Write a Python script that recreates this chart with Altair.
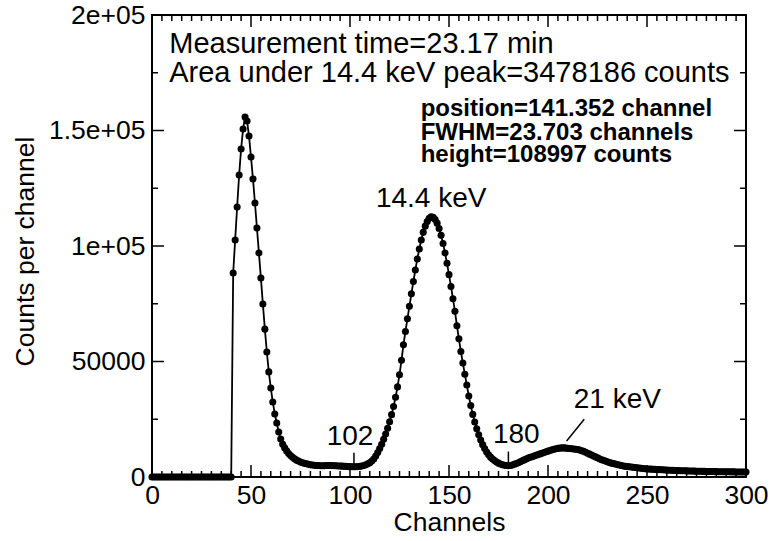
import altair as alt
import pandas as pd

FONT = "Liberation Sans"

# ---------------- data ----------------
channels = list(range(0, 301))
counts = (
    [0] * 41 +                                                    # 0-40
    [88300, 102600, 116900, 130700, 142000, 150600, 155800, 154100, 147600,   # 41-49
     138500, 129000, 118600, 107800, 97000, 86100, 74900, 64000, 54100, 45500,  # 50-59
     38500, 32500, 27300, 23400, 19500, 16400, 14200, 12600, 11300, 10200,      # 60-69
     9300, 8500, 7900, 7300, 6900, 6500, 6200, 5900, 5700, 5500,                # 70-79
     5300, 5200, 5100, 5000, 5000, 4900, 4900, 4900, 5000, 5000,                # 80-89
     5000, 5000, 4900, 4900, 4800, 4800, 4700, 4600, 4600, 4500,                # 90-99
     4500, 4400, 4400, 4400, 4500, 4600, 4800, 5000, 5300, 5700,                # 100-109
     6200, 6900, 7800, 9100, 10600, 12300, 14200, 16300, 18600, 21100,          # 110-119
     23900, 27000, 30500, 34500, 39000, 44300, 50500, 57200, 63000, 68500,      # 120-129
     73900, 79300, 84600, 89600, 94400, 98700, 102600, 105900, 108600, 110600,  # 130-139
     112000, 112600, 112400, 111500, 109900, 107600, 104600, 101100, 97000, 92500,  # 140-149
     87600, 82500, 77200, 71700, 65500, 59800, 54300, 49300, 44500, 39800,      # 150-159
     35100, 30900, 27100, 23800, 20900, 18300, 16000, 14000, 12300, 10800,      # 160-169
     9600, 8600, 7800, 7100, 6500, 6000, 5600, 5300, 5100, 5000,                # 170-179
     4900, 5000, 5200, 5500, 5800, 6200, 6600, 7000, 7400, 7800,                # 180-189
     8200, 8500, 8800, 9100, 9400, 9700, 10000, 10300, 10600, 10900,            # 190-199
     11200, 11500, 11800, 12000, 12200, 12400, 12500, 12600, 12600, 12500,      # 200-209
     12400, 12300, 12200, 12100, 12000, 11900, 11700, 11400, 11100, 10700,      # 210-219
     10300, 9900, 9500, 9100, 8700, 8300, 7900, 7500, 7200, 6900,               # 220-229
     6600, 6300, 6000, 5800, 5600, 5400, 5200, 5000, 4800, 4600,                # 230-239
     4500, 4400, 4300, 4200, 4100, 4000, 3900, 3800, 3700, 3600,                # 240-249
     3500, 3450, 3400, 3350, 3300, 3250, 3200, 3150, 3100, 3050,                # 250-259
     3000, 2950, 2900, 2870, 2840, 2800, 2770, 2740, 2700, 2670,                # 260-269
     2640, 2610, 2580, 2560, 2540, 2510, 2490, 2470, 2450, 2430,                # 270-279
     2410, 2390, 2370, 2350, 2340, 2320, 2300, 2290, 2270, 2260,                # 280-289
     2250, 2240, 2230, 2220, 2210, 2200, 2190, 2180, 2170, 2160,                # 290-299
     2150]                                                                      # 300
)

x_major = [0, 50, 100, 150, 200, 250, 300]
x_minor = [v for v in range(0, 301, 5) if v % 50 != 0]
y_major = [0, 50000, 100000, 150000, 200000]
y_major_labels = ["0", "50000", "1e+05", "1.5e+05", "2e+05"]
y_minor = [25000, 75000, 125000, 175000]

# annotation texts (positions in data units)
big_text = ["Measurement time=23.17 min", "Area under 14.4 keV peak=3478186 counts"]
big_x = [8.7, 8.7]
big_y = [183400, 171100]

bold_text = ["position=141.352 channel", "FWHM=23.703 channels", "height=108997 counts"]
bold_x = [135.7, 135.7, 135.7]
bold_y = [156400, 145900, 136500]

peak_text = ["14.4 keV", "102", "180", "21 keV"]
peak_x = [141, 100, 184, 235]
peak_y = [117000, 13850, 14600, 29700]

seg_x = [102, 180, 218.3]
seg_y = [10500, 11000, 25000]
seg_x2 = [102, 180, 209.4]
seg_y2 = [4500, 4500, 15600]

# ---------------- chart ----------------
W, H = 594, 462
df = pd.DataFrame({"channel": channels, "counts": counts})

xscale = alt.Scale(domain=[0, 300], nice=False, zero=False)
yscale = alt.Scale(domain=[0, 200000], nice=False, zero=False)

label_expr = " : ".join(
    f"datum.value == {v} ? '{l}'" for v, l in zip(y_major, y_major_labels)
) + " : ''"

x_axis = alt.Axis(
    values=x_major, labelFontSize=26.5, labelFont=FONT, labelColor="black",
    ticks=False, tickSize=0, domain=False, grid=False, labelPadding=5,
    labelFlush=False, labelOverlap=False,
    title="Channels", titleFont=FONT, titleFontSize=26.5, titleFontWeight="normal",
    titleColor="black", titleX=W / 2, titleY=53, titleBaseline="alphabetic",
    titleAlign="center",
)
y_axis = alt.Axis(
    values=y_major, labelExpr=label_expr, labelFontSize=26.5, labelFont=FONT,
    labelColor="black", ticks=False, tickSize=0, domain=False, grid=False,
    labelPadding=7, labelFlush=False, labelOverlap=False,
    title="Counts per channel", titleFont=FONT, titleFontSize=26.5,
    titleFontWeight="normal", titleColor="black", titleAngle=270,
    titleX=-127, titleY=236, titleAlign="center", titleBaseline="middle",
)


def X(field):
    return alt.X(field, scale=xscale, axis=x_axis)


def Y(field):
    return alt.Y(field, scale=yscale, axis=y_axis)


base = alt.Chart(df)
line = base.mark_line(color="black", strokeWidth=1.8).encode(
    x=X("channel:Q"), y=Y("counts:Q"),
)
pts = base.mark_circle(color="black", size=50, opacity=1).encode(
    x=X("channel:Q"), y=Y("counts:Q"),
)


def xticks(vals, length):
    d = pd.DataFrame({"t": vals})
    c = alt.Chart(d).mark_rule(color="black", strokeWidth=1.5)
    bottom = c.encode(x=X("t:Q"), y=alt.value(H), y2=alt.value(H - length))
    top = c.encode(x=X("t:Q"), y=alt.value(0), y2=alt.value(length))
    return [bottom, top]


def yticks(vals, length):
    d = pd.DataFrame({"t": vals})
    c = alt.Chart(d).mark_rule(color="black", strokeWidth=1.5)
    left = c.encode(y=Y("t:Q"), x=alt.value(0), x2=alt.value(length))
    right = c.encode(y=Y("t:Q"), x=alt.value(W), x2=alt.value(W - length))
    return [left, right]


tick_layers = xticks(x_major, 12) + xticks(x_minor, 6) + yticks(y_major, 12) + yticks(y_minor, 6)

big = alt.Chart(pd.DataFrame({"x": big_x, "y": big_y, "t": big_text})).mark_text(
    font=FONT, fontSize=29, align="left", baseline="alphabetic", color="black"
).encode(x=X("x:Q"), y=Y("y:Q"), text="t:N")

bold = alt.Chart(pd.DataFrame({"x": bold_x, "y": bold_y, "t": bold_text})).mark_text(
    font=FONT, fontSize=24, fontWeight="bold", align="left", baseline="alphabetic", color="black"
).encode(x=X("x:Q"), y=Y("y:Q"), text="t:N")

peaks = alt.Chart(pd.DataFrame({"x": peak_x, "y": peak_y, "t": peak_text})).mark_text(
    font=FONT, fontSize=28, align="center", baseline="alphabetic", color="black"
).encode(x=X("x:Q"), y=Y("y:Q"), text="t:N")

segs = alt.Chart(pd.DataFrame({"x": seg_x, "y": seg_y, "x2": seg_x2, "y2": seg_y2})).mark_rule(
    color="black", strokeWidth=1.5
).encode(x=X("x:Q"), y=Y("y:Q"), x2="x2:Q", y2="y2:Q")

chart = alt.layer(line, pts, *tick_layers, segs, big, bold, peaks).properties(
    width=W, height=H,
    autosize=alt.AutoSizeParams(type="none"),
    padding={"left": 152, "top": 15, "right": 25, "bottom": 64},
).configure(background="white").configure_view(stroke="black", strokeWidth=2)

chart.save("out.html", embed_options={"renderer": "svg", "actions": False})
